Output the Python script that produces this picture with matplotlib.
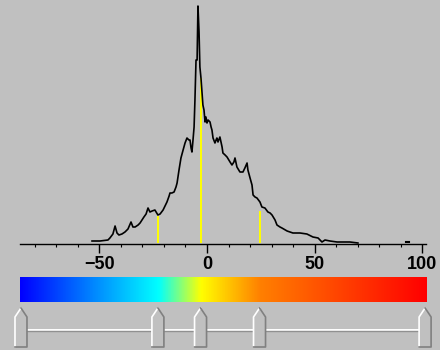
import matplotlib
matplotlib.use("Agg")
import numpy as np
import matplotlib.pyplot as plt
from matplotlib.colors import LinearSegmentedColormap
from matplotlib.patches import Polygon

# histogram trace (value, count)
bin_x = [-53.4, -49.7, -46.0, -45.1, -43.7, -42.7, -41.8, -40.9, -39.5, -38.1,
         -36.7, -35.3, -34.4, -33.4, -32.0, -31.1, -30.2, -29.3, -28.3, -27.4,
         -26.5, -25.5, -24.2, -22.8, -21.8, -20.4, -19.5, -18.6, -17.6, -17.2,
         -16.3, -15.3, -14.4, -13.9, -13.0, -12.1, -11.1, -10.2, -9.3, -8.4,
         -7.9, -7.4, -7.0, -6.5, -6.0, -5.6, -5.1, -4.6, -4.2, -3.7,
         -3.3, -2.8, -2.3, -1.9, -1.4, -0.9, -0.5, 0.0, 0.5, 1.4,
         1.9, 2.3, 2.8, 3.7, 4.2, 4.6, 5.1, 6.0, 7.0, 7.4,
         8.4, 9.3, 10.7, 11.6, 12.5, 13.0, 13.5, 13.9, 15.3, 16.7,
         17.6, 18.6, 19.0, 20.0, 20.9, 21.4, 22.3, 23.2, 24.6, 25.5,
         26.9, 28.3, 29.3, 30.2, 31.6, 32.5, 33.9, 34.8, 37.2, 39.9,
         43.2, 46.4, 49.2, 51.6, 52.5, 53.4, 54.8, 57.1, 60.4, 66.4, 70.1]
counts = [2, 2, 3, 5, 9, 17, 10, 8, 9, 11,
          14, 21, 16, 16, 18, 20, 23, 26, 29, 35,
          31, 32, 33, 28, 29, 33, 37, 41, 47, 50,
          50, 51, 56, 60, 73, 85, 93, 100, 105, 103,
          103, 95, 91, 103, 116, 143, 183, 183, 237, 211,
          176, 165, 150, 138, 133, 121, 126, 120, 123, 121,
          116, 113, 105, 100, 103, 105, 101, 106, 96, 90,
          88, 86, 81, 78, 81, 85, 80, 76, 71, 71,
          75, 80, 73, 65, 58, 48, 46, 45, 41, 36,
          35, 31, 30, 28, 23, 18, 16, 15, 12, 10,
          10, 9, 6, 5, 3, 1, 3, 2, 1, 1, 0]
# a lone count far out on the right
stray_x = [92.4, 93.6]
stray_y = [1.5, 1.5]

# yellow markers and slider thumbs
marker_vals = [-22.8, -3.0, 24.4]
marker_tops = [27, 165, 32]
thumb_vals = [-86.4, -22.8, -3.0, 24.4, 101.3]

# colour ramp stops
stop_vals = [-86.9, -22.8, -3.0, 24.4, 101.7]
stop_cols = ["#0000ff", "#00ffff", "#ffff00", "#ff8000", "#ff0000"]

major_ticks = [-50, 0, 50, 100]
minor_ticks = [-80, -70, -60, -40, -30, -20, -10, 10, 20, 30, 40,
               60, 70, 80, 90]

BG = "#c0c0c0"
PX = 1 / 2.153          # data units per pixel
X0 = 207                # pixel column of value 0

W, H = 440, 350
fig = plt.figure(figsize=(W / 100, H / 100), dpi=100, facecolor=BG)

lo, hi = (20 - X0) * PX, (426 - X0) * PX

# --- histogram ---
ax = fig.add_axes([20 / W, (H - 244) / H, 406 / W, 244 / H])
ax.set_facecolor(BG)
ax.set_xlim(lo, hi)
ax.set_ylim(-1, 243)
ax.vlines(marker_vals, 0, marker_tops, color="#ffff00", lw=1.4, zorder=2)
ax.plot(bin_x, counts, color="black", lw=1.2, zorder=3)
ax.plot(stray_x, stray_y, color="black", lw=1.5, zorder=3)
for s in ["top", "left", "right"]:
    ax.spines[s].set_visible(False)
ax.spines["bottom"].set_linewidth(1.0)
ax.set_yticks([])
ax.set_xticks(major_ticks)
ax.set_xticks(minor_ticks, minor=True)
ax.tick_params(axis="x", which="major", length=6.5, width=1.0, pad=2,
               labelsize=13)
ax.tick_params(axis="x", which="minor", length=2.2, width=0.8)
for lab in ax.get_xticklabels():
    lab.set_fontfamily("Liberation Sans")
    lab.set_fontweight("bold")

# --- colour ramp ---
pos = [(v - stop_vals[0]) / (stop_vals[-1] - stop_vals[0]) for v in stop_vals]
cmap = LinearSegmentedColormap.from_list("ramp", list(zip(pos, stop_cols)))
cax = fig.add_axes([20 / W, (H - 302) / H, 406 / W, 25 / H])
cax.imshow(np.linspace(0, 1, 512)[None, :], aspect="auto", cmap=cmap,
           extent=[lo, hi, 0, 1])
cax.set_axis_off()

# --- slider ---
sax = fig.add_axes([0, 0, 1, 1])
sax.set_xlim((0 - X0) * PX, (W - X0) * PX)
sax.set_ylim(H, 0)
sax.set_axis_off()
sax.plot([thumb_vals[0], thumb_vals[-1]], [329.5, 329.5], color="white", lw=1.4)
sax.plot([thumb_vals[0], thumb_vals[-1]], [331.2, 331.2], color="#909090", lw=1.0)
hw = 6 * PX
for v in thumb_vals:
    pts = [(v - hw, 347), (v - hw, 317), (v, 308), (v + hw, 317), (v + hw, 347)]
    sax.add_patch(Polygon(pts, closed=True, facecolor=BG, edgecolor="none",
                          zorder=3))
    sax.plot([v - hw, v - hw, v], [347, 317, 308], color="white", lw=1.2,
             zorder=4)
    sax.plot([v, v + hw, v + hw, v - hw], [308, 317, 347, 347],
             color="#808080", lw=1.2, zorder=4)

fig.savefig("out.png", dpi=100, facecolor=BG)
